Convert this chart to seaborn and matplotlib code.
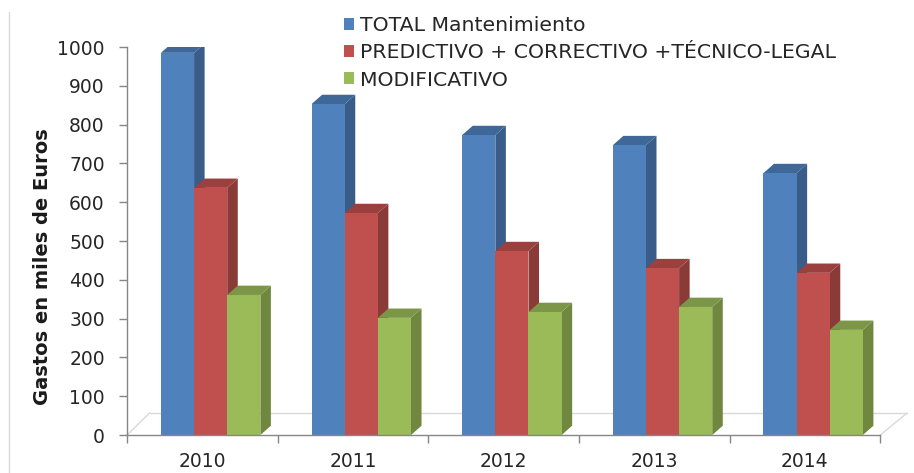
import seaborn as sns
import pandas as pd
import matplotlib.pyplot as plt
from matplotlib.patches import Polygon
from matplotlib.lines import Line2D
import matplotlib.colors as mcolors

years = ['2010', '2011', '2012', '2013', '2014']
series = ['TOTAL Mantenimiento',
          'PREDICTIVO + CORRECTIVO +TÉCNICO-LEGAL',
          'MODIFICATIVO']
total = [985, 853, 773, 747, 675]
predictivo = [637, 572, 474, 430, 418]
modificativo = [361, 302, 317, 330, 271]

colors = ['#4F81BD', '#C0504D', '#9BBB59']


def prepare_data():
    rows = []
    for name, vals in zip(series, [total, predictivo, modificativo]):
        for y, v in zip(years, vals):
            rows.append({'year': y, 'serie': name, 'value': v})
    return pd.DataFrame(rows)


def darker(c, f):
    r, g, b = mcolors.to_rgb(c)
    return (r * f, g * f, b * f)


def add_depth(ax, dx=0.07, dy=24, shift=0.055):
    """
    fake excel 3d look: side and top face for every bar
    """
    for i, cont in enumerate(ax.containers):
        side = darker(colors[i], 0.72)
        top = darker(colors[i], 0.8)
        for p in cont:
            p.set_x(p.get_x() + shift)
            x0 = p.get_x()
            x1 = x0 + p.get_width()
            h = p.get_height()
            ax.add_patch(Polygon([(x1, 0), (x1 + dx, dy), (x1 + dx, h + dy), (x1, h)],
                                 closed=True, facecolor=side, edgecolor='none', zorder=1.5))
            ax.add_patch(Polygon([(x0, h), (x0 + dx, h + dy), (x1 + dx, h + dy), (x1, h)],
                                 closed=True, facecolor=top, edgecolor='none', zorder=1.5))


data = prepare_data()

sns.set_style('white')
plt.rcParams['font.family'] = ['DejaVu Sans']

fig = plt.figure(figsize=(9.14, 4.73), dpi=100)
ax = fig.add_axes([0.139, 0.0803, 0.824, 0.8203])

sns.barplot(data=data, x='year', y='value', hue='serie', palette=colors,
            width=0.66, saturation=1, ax=ax, legend=True, zorder=2,
            linewidth=0, edgecolor='none')
add_depth(ax)

ax.set_ylim(0, 1000)
ax.set_xlim(-0.5, 4.5)
ax.set_yticks(range(0, 1001, 100))
ax.set_xlabel('')
ax.set_ylabel('')
ax.tick_params(axis='y', which='major', length=6, width=1, color='#868686',
               labelsize=13.5, labelcolor='#262626', pad=10, left=True)
ax.tick_params(axis='x', which='major', length=0, labelsize=13.5,
               labelcolor='#262626', pad=12)
ax.set_xticks([i - 0.5 for i in range(6)], minor=True)
ax.tick_params(axis='x', which='minor', length=6, width=1, color='#868686', bottom=True)

for s in ['top', 'right']:
    ax.spines[s].set_visible(False)
for s in ['left', 'bottom']:
    ax.spines[s].set_color('#868686')
    ax.spines[s].set_linewidth(1)

# floor of the 3d chart
floor = dict(color='#d9d9d9', lw=1, transform=ax.transAxes, clip_on=False, zorder=0)
ax.add_line(Line2D([0.03, 1.036], [0.057, 0.057], **floor))
ax.add_line(Line2D([1.0, 1.036], [0.0, 0.057], **floor))
ax.add_line(Line2D([0.0, 0.03], [0.0, 0.057], **floor))

fig.text(0.047, 0.437, 'Gastos en miles de Euros', rotation=90, fontsize=14,
         fontweight='bold', color='#1a1a1a', ha='center', va='center')

handles, labels = ax.get_legend_handles_labels()
ax.legend(handles, labels, loc='upper left', bbox_to_anchor=(0.367, 0.983),
          bbox_transform=fig.transFigure, frameon=False, fontsize=14.7,
          handlelength=0.5, handleheight=0.5, handletextpad=0.3,
          labelspacing=0.4, borderaxespad=0)

# chart border line on the left
fig.add_artist(Line2D([0.0099, 0.0099], [0.0, 0.975], color='#d9d9d9', lw=1))

plt.savefig('out.png', dpi=100)
